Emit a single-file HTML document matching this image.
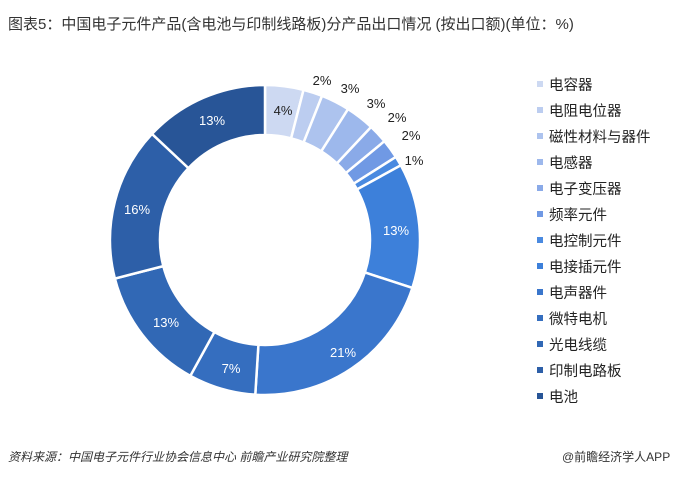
<!DOCTYPE html>
<html><head><meta charset="utf-8"><style>
body{margin:0;width:680px;height:477px;background:#fff;font-family:"Liberation Sans","Noto Sans CJK SC",sans-serif;overflow:hidden;position:relative}
.t{position:absolute;left:8px;top:13px;font-size:15px;color:#333;white-space:nowrap}
.lg{position:absolute;left:537px;font-size:14.5px;color:#222;white-space:nowrap;line-height:18px}
.lg i{display:inline-block;width:6px;height:6px;margin-right:6px;vertical-align:3px}
.f{position:absolute;top:448px;font-size:12px;color:#333;font-style:italic;white-space:nowrap}
</style></head><body>
<div class="t">图表5：中国电子元件产品(含电池与印制线路板)分产品出口情况 (按出口额)(单位：%)</div>
<svg width="680" height="477" style="position:absolute;left:0;top:0">
<g id="d"></g>
<g font-size="13" text-anchor="middle" font-family="Liberation Sans,sans-serif">
<text x="283" y="115" fill="#222">4%</text>
<text x="322" y="85" fill="#222">2%</text>
<text x="350" y="93" fill="#222">3%</text>
<text x="376" y="108" fill="#222">3%</text>
<text x="397" y="122" fill="#222">2%</text>
<text x="411" y="140" fill="#222">2%</text>
<text x="414" y="165" fill="#222">1%</text>
<text x="396" y="235" fill="#fff">13%</text>
<text x="343" y="357" fill="#fff">21%</text>
<text x="231" y="373" fill="#fff">7%</text>
<text x="166" y="327" fill="#fff">13%</text>
<text x="137" y="214" fill="#fff">16%</text>
<text x="212" y="125" fill="#fff">13%</text>
</g>
</svg>
<script>
var v=[4,2,3,3,2,2,1,13,21,7,13,16,13],c=["#cdd9f2","#bccdf0","#adc3ee","#9db8ec","#8aaae8","#7099e4","#4a8ae0","#3d80da","#3a76cc","#356ebf","#3168b5","#2d5fa8","#285597"];
var cx=265,cy=240,R=155,r=105,a=0,s="",tot=100;
for(var i=0;i<v.length;i++){var a0=a,a1=a+v[i]/tot*2*Math.PI;a=a1;
function p(rr,t){return (cx+rr*Math.sin(t)).toFixed(2)+","+(cy-rr*Math.cos(t)).toFixed(2)}
var L=(a1-a0)>Math.PI?1:0;
s+='<path d="M'+p(R,a0)+'A'+R+','+R+' 0 '+L+' 1 '+p(R,a1)+'L'+p(r,a1)+'A'+r+','+r+' 0 '+L+' 0 '+p(r,a0)+'Z" fill="'+c[i]+'" stroke="#fff" stroke-width="2.5"/>';}
document.getElementById("d").innerHTML=s;
</script>
<div class="lg" style="top:77px"><i style="background:#cdd9f2"></i>电容器</div>
<div class="lg" style="top:103px"><i style="background:#bccdf0"></i>电阻电位器</div>
<div class="lg" style="top:129px"><i style="background:#adc3ee"></i>磁性材料与器件</div>
<div class="lg" style="top:155px"><i style="background:#9db8ec"></i>电感器</div>
<div class="lg" style="top:181px"><i style="background:#8aaae8"></i>电子变压器</div>
<div class="lg" style="top:207px"><i style="background:#7099e4"></i>频率元件</div>
<div class="lg" style="top:233px"><i style="background:#4a8ae0"></i>电控制元件</div>
<div class="lg" style="top:259px"><i style="background:#3d80da"></i>电接插元件</div>
<div class="lg" style="top:285px"><i style="background:#3a76cc"></i>电声器件</div>
<div class="lg" style="top:311px"><i style="background:#356ebf"></i>微特电机</div>
<div class="lg" style="top:337px"><i style="background:#3168b5"></i>光电线缆</div>
<div class="lg" style="top:363px"><i style="background:#2d5fa8"></i>印制电路板</div>
<div class="lg" style="top:389px"><i style="background:#285597"></i>电池</div>
<div class="f" style="left:8px">资料来源：中国电子元件行业协会信息中心 前瞻产业研究院整理</div>
<div class="f" style="left:562px;font-style:normal">@前瞻经济学人APP</div>
</body></html>
